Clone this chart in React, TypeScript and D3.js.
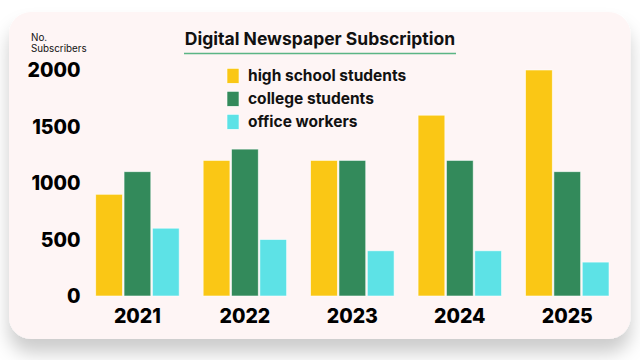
import React from "react";
import * as d3 from "d3";

const years = ["2021", "2022", "2023", "2024", "2025"];
const seriesNames = ["high school students", "college students", "office workers"];
const highSchool = [900, 1200, 1200, 1600, 2000];
const college = [1100, 1300, 1200, 1200, 1100];
const office = [600, 500, 400, 400, 300];
const yTicks = [0, 500, 1000, 1500, 2000];
const colors = ["#FAC715", "#338A5B", "#5DE2E6"];

const W = 640;
const H = 360;
const FONT = "Inter, 'Noto Sans', sans-serif";

export default function App() {
  const values = [highSchool, college, office];
  const x0 = d3.scaleBand<string>().domain(years).range([83.7, 621]).paddingInner(0.2232).paddingOuter(0.1116);
  const x1 = d3.scaleBand<string>().domain(seriesNames).range([0, x0.bandwidth()]).paddingInner(0.056);
  const y = d3.scaleLinear().domain([0, 2000]).range([296, 70]);

  return (
    <svg width={W} height={H} style={{ position: "absolute", left: 0, top: 0, background: "#fff" }}>
      <defs>
        <filter id="sh" x="-10%" y="-10%" width="120%" height="140%">
          <feDropShadow dx="0" dy="14" stdDeviation="9" floodColor="#000" floodOpacity="0.2" />
        </filter>
      </defs>
      <rect x={9} y={12} width={621.5} height={327} rx={22} fill="#FEF5F5" filter="url(#sh)" />

      <text x={31} y={41} fontFamily={FONT} fontSize={9.8} fill="#111">No.</text>
      <text x={31} y={51.5} fontFamily={FONT} fontSize={9.8} fill="#111">Subscribers</text>

      <text x={320} y={45} textAnchor="middle" fontFamily={FONT} fontWeight={700} fontSize={17.5} fill="#111">
        Digital Newspaper Subscription
      </text>
      <line x1={184} x2={456} y1={53.5} y2={53.5} stroke="#5BB585" strokeWidth={1.5} />

      {seriesNames.map((s, i) => (
        <g key={s}>
          <rect x={227} y={68.3 + i * 23} width={12} height={15} fill={colors[i]} stroke="#fff" strokeWidth={0.6} />
          <text x={248} y={76 + i * 23} dy="0.35em" fontFamily={FONT} fontWeight={700} fontSize={15.5} fill="#111">
            {s}
          </text>
        </g>
      ))}

      {yTicks.map((t) => (
        <text key={t} x={80.5} y={y(t)} dy="0.36em" textAnchor="end" fontFamily={FONT} fontWeight={800} fontSize={19.5} fill="#000">
          {t}
        </text>
      ))}

      {years.map((yr, yi) => (
        <g key={yr} transform={`translate(${x0(yr)},0)`}>
          {seriesNames.map((s, si) => (
            <rect
              key={s}
              x={x1(s)}
              y={y(values[si][yi])}
              width={x1.bandwidth()}
              height={y(0) - y(values[si][yi])}
              fill={colors[si]}
              stroke="#fff"
              strokeOpacity={0.7}
              strokeWidth={0.8}
            />
          ))}
          <text x={x0.bandwidth() / 2} y={316} dy="0.36em" textAnchor="middle" fontFamily={FONT} fontWeight={800} fontSize={19.5} fill="#000">
            {yr}
          </text>
        </g>
      ))}
    </svg>
  );
}
